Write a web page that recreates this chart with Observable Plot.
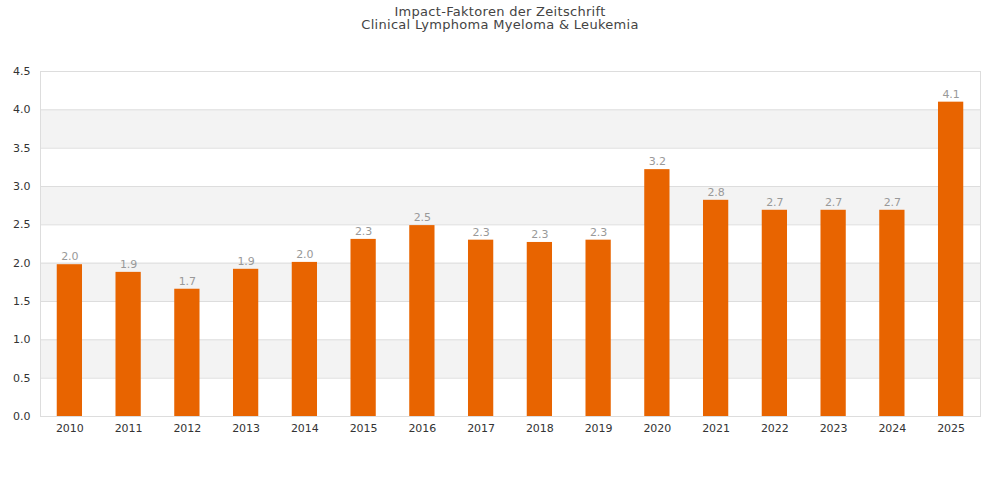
<!DOCTYPE html>
<html>
<head>
<meta charset="utf-8">
<script src="https://cdn.jsdelivr.net/npm/d3@7"></script>
<script src="https://cdn.jsdelivr.net/npm/@observablehq/plot@0.6"></script>
<style>
  body { margin: 0; background: #fff; font-family: "DejaVu Sans", sans-serif; }
  #title { height: 40px; box-sizing: border-box; padding-top: 5px; text-align: center; font-size: 13px; line-height: 13px; color: #444; letter-spacing: 0.3px; }
</style>
</head>
<body>
<div id="title"><div>Impact-Faktoren der Zeitschrift</div><div>Clinical Lymphoma Myeloma &amp; Leukemia</div></div>
<div id="chart"></div>
<script>
const years = ["2010","2011","2012","2013","2014","2015","2016","2017","2018","2019","2020","2021","2022","2023","2024","2025"];
const impact = [1.98,1.88,1.66,1.92,2.01,2.31,2.49,2.30,2.27,2.30,3.22,2.82,2.69,2.69,2.69,4.10];
const yTicks = [0,0.5,1,1.5,2,2.5,3,3.5,4,4.5];
const bandStarts = [0.5,1.5,2.5,3.5];

const data = years.map((y, i) => ({year: y, value: impact[i]}));
const bands = bandStarts.map(b => ({y1: b, y2: b + 0.5}));

const chart = Plot.plot({
  width: 1000,
  height: 460,
  marginTop: 31,
  marginBottom: 84,
  marginLeft: 40,
  marginRight: 20,
  style: {fontFamily: "DejaVu Sans, sans-serif", fontSize: "11px", color: "#333", background: "#fff"},
  x: {domain: years, label: null, paddingInner: 0.57, paddingOuter: 0.285, round: false, tickSize: 0, tickPadding: 8},
  y: {domain: [0, 4.5], ticks: yTicks, tickFormat: d3.format(".1f"), label: null, tickSize: 0, tickPadding: 10},
  marks: [
    Plot.rect(bands, {y1: "y1", y2: "y2", fill: "#f3f3f3"}),
    Plot.ruleY(yTicks, {stroke: "#dddddd"}),
    Plot.frame({stroke: "#dddddd"}),
    Plot.barY(data, {x: "year", y: "value", fill: "#e86400"}),
    Plot.text(data, {x: "year", y: "value", text: d => d.value.toFixed(1), dy: -8, fill: "#999999", fontSize: 11})
  ]
});
document.getElementById("chart").appendChild(chart);
</script>
</body>
</html>
